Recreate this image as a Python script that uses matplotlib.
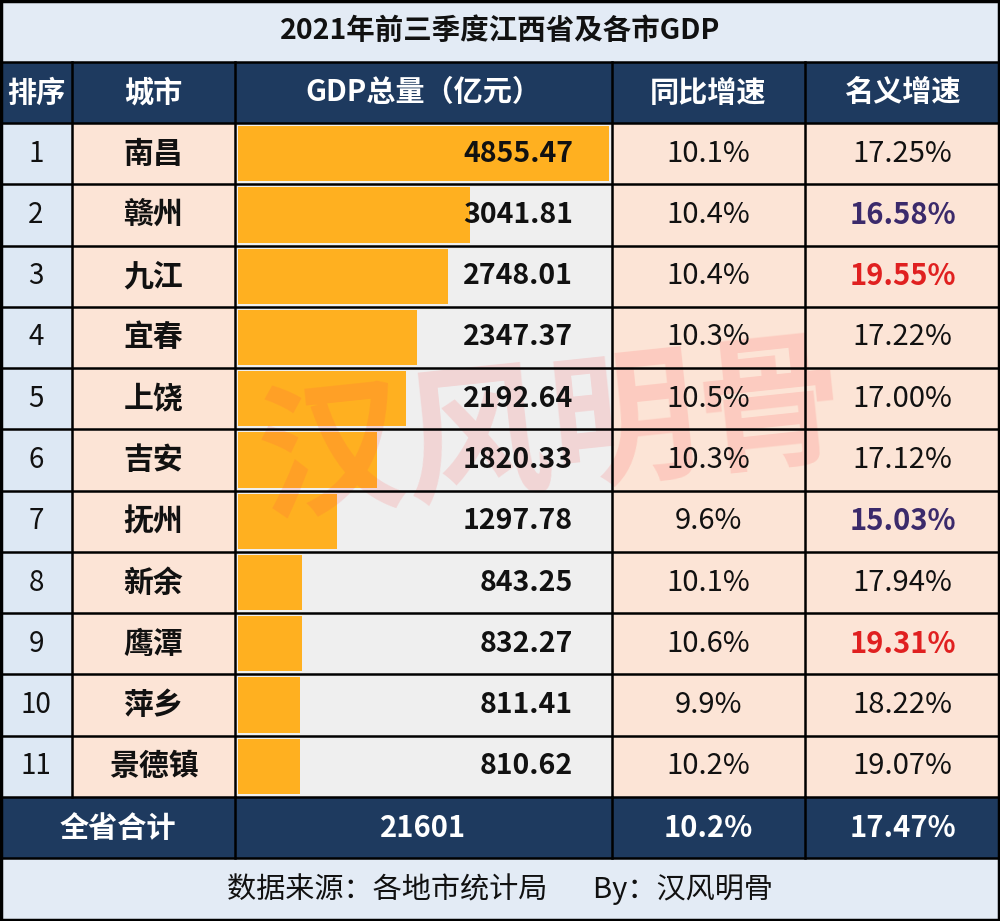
import matplotlib.pyplot as plt
from matplotlib.patches import Rectangle

plt.rcParams['font.family'] = ['Noto Sans CJK SC', 'DejaVu Sans']

title = "2021年前三季度江西省及各市GDP"
headers = ["排序", "城市", "GDP总量（亿元）", "同比增速", "名义增速"]
ranks = [str(i) for i in range(1, 12)]
cities = ["南昌", "赣州", "九江", "宜春", "上饶", "吉安", "抚州", "新余", "鹰潭", "萍乡", "景德镇"]
gdp = [4855.47, 3041.81, 2748.01, 2347.37, 2192.64, 1820.33, 1297.78, 843.25, 832.27, 811.41, 810.62]
yoy = ["10.1%", "10.4%", "10.4%", "10.3%", "10.5%", "10.3%", "9.6%", "10.1%", "10.6%", "9.9%", "10.2%"]
nominal = ["17.25%", "16.58%", "19.55%", "17.22%", "17.00%", "17.12%", "15.03%", "17.94%", "19.31%", "18.22%", "19.07%"]
total = ["全省合计", "21601", "10.2%", "17.47%"]
source = "数据来源：各地市统计局       By：汉风明骨"

# highlight colours for nominal growth
purple_rows = ["16.58%", "15.03%"]
red_rows = ["19.55%", "19.31%"]

navy = "#1e3a5f"
peach = "#fce4d6"
blue_light = "#dde8f4"
gray_light = "#efefef"
bar_col = "#ffb020"

fig = plt.figure(figsize=(10, 9.21), dpi=100)
ax = fig.add_axes([0, 0, 1, 1])
ax.set_xlim(0, 1000)
ax.set_ylim(921, 0)
ax.axis('off')

cols = [0, 72, 235, 612, 805, 1000]
top_head, top_data = 62, 123
row_h = (797 - 123) / 11
y_total = 797
y_source = 858

def cell(x0, x1, y0, y1, color):
    ax.add_patch(Rectangle((x0, y0), x1 - x0, y1 - y0, facecolor=color, edgecolor='none', zorder=0))

# backgrounds
cell(0, 1000, 0, top_head, "#e3ebf5")
cell(0, 1000, top_head, top_data, navy)
for i in range(11):
    y0 = top_data + i * row_h
    cell(cols[0], cols[1], y0, y0 + row_h, blue_light)
    cell(cols[1], cols[2], y0, y0 + row_h, peach)
    cell(cols[2], cols[3], y0, y0 + row_h, gray_light)
    cell(cols[3], cols[5], y0, y0 + row_h, peach)
cell(0, 1000, y_total, y_source, navy)
cell(0, 1000, y_source, 921, "#e3ebf5")

# bars
bar_left = cols[2] + 3
scale = (609 - bar_left) / max(gdp)
centers = [top_data + (i + 0.5) * row_h for i in range(11)]
ax.barh(centers, [v * scale for v in gdp], left=bar_left, height=row_h - 6,
        color=bar_col, zorder=1)

# watermark
ax.text(552, 435, "汉风明骨", fontsize=106, color="#ff4a4a", alpha=0.16,
        ha='center', va='center', fontweight='bold', rotation=6, zorder=2)

# grid lines
lw = 1.8
for y in [top_head, top_data] + [top_data + i * row_h for i in range(1, 11)] + [y_total, y_source]:
    ax.plot([0, 1000], [y, y], color='black', lw=lw, zorder=3)
for x in cols[1:-1]:
    ax.plot([x, x], [top_head, y_total], color='black', lw=lw, zorder=3)
for x in [cols[2], cols[3], cols[4]]:
    ax.plot([x, x], [y_total, y_source], color='black', lw=lw, zorder=3)
ax.add_patch(Rectangle((1, 1), 998, 919, facecolor='none', edgecolor='black', lw=2.5, zorder=4))

# title
ax.text(500, 31, title, fontsize=20.5, fontweight='bold', ha='center', va='center', color='#111111', zorder=5)

# headers
for j, h in enumerate(headers):
    ax.text((cols[j] + cols[j + 1]) / 2, (top_head + top_data) / 2, h, fontsize=21,
            fontweight='bold', color='white', ha='center', va='center', zorder=5)

# data rows
for i in range(11):
    yc = centers[i]
    ax.text((cols[0] + cols[1]) / 2, yc, ranks[i], fontsize=20, ha='center', va='center', color='#111111', zorder=5)
    ax.text((cols[1] + cols[2]) / 2, yc, cities[i], fontsize=21.5, fontweight='bold', ha='center', va='center', color='#111111', zorder=5)
    ax.text(573, yc, f"{gdp[i]:.2f}", fontsize=20.5, fontweight='bold', ha='right', va='center', color='#111111', zorder=5)
    ax.text((cols[3] + cols[4]) / 2, yc, yoy[i], fontsize=21, ha='center', va='center', color='#111111', zorder=5)
    c, w = '#111111', 'normal'
    if nominal[i] in purple_rows:
        c, w = '#3b2a6b', 'bold'
    elif nominal[i] in red_rows:
        c, w = '#e02020', 'bold'
    ax.text((cols[4] + cols[5]) / 2, yc, nominal[i], fontsize=21, fontweight=w, ha='center', va='center', color=c, zorder=5)

# total row
yc = (y_total + y_source) / 2
for k, x in enumerate([(cols[0] + cols[2]) / 2, (cols[2] + cols[3]) / 2,
                       (cols[3] + cols[4]) / 2, (cols[4] + cols[5]) / 2]):
    ax.text(x, yc, total[k], fontsize=21, fontweight='bold', color='white', ha='center', va='center', zorder=5)

# source
ax.text(500, (y_source + 921) / 2, source, fontsize=21, color='#111111', ha='center', va='center', zorder=5)

plt.savefig('out.png', dpi=100)
